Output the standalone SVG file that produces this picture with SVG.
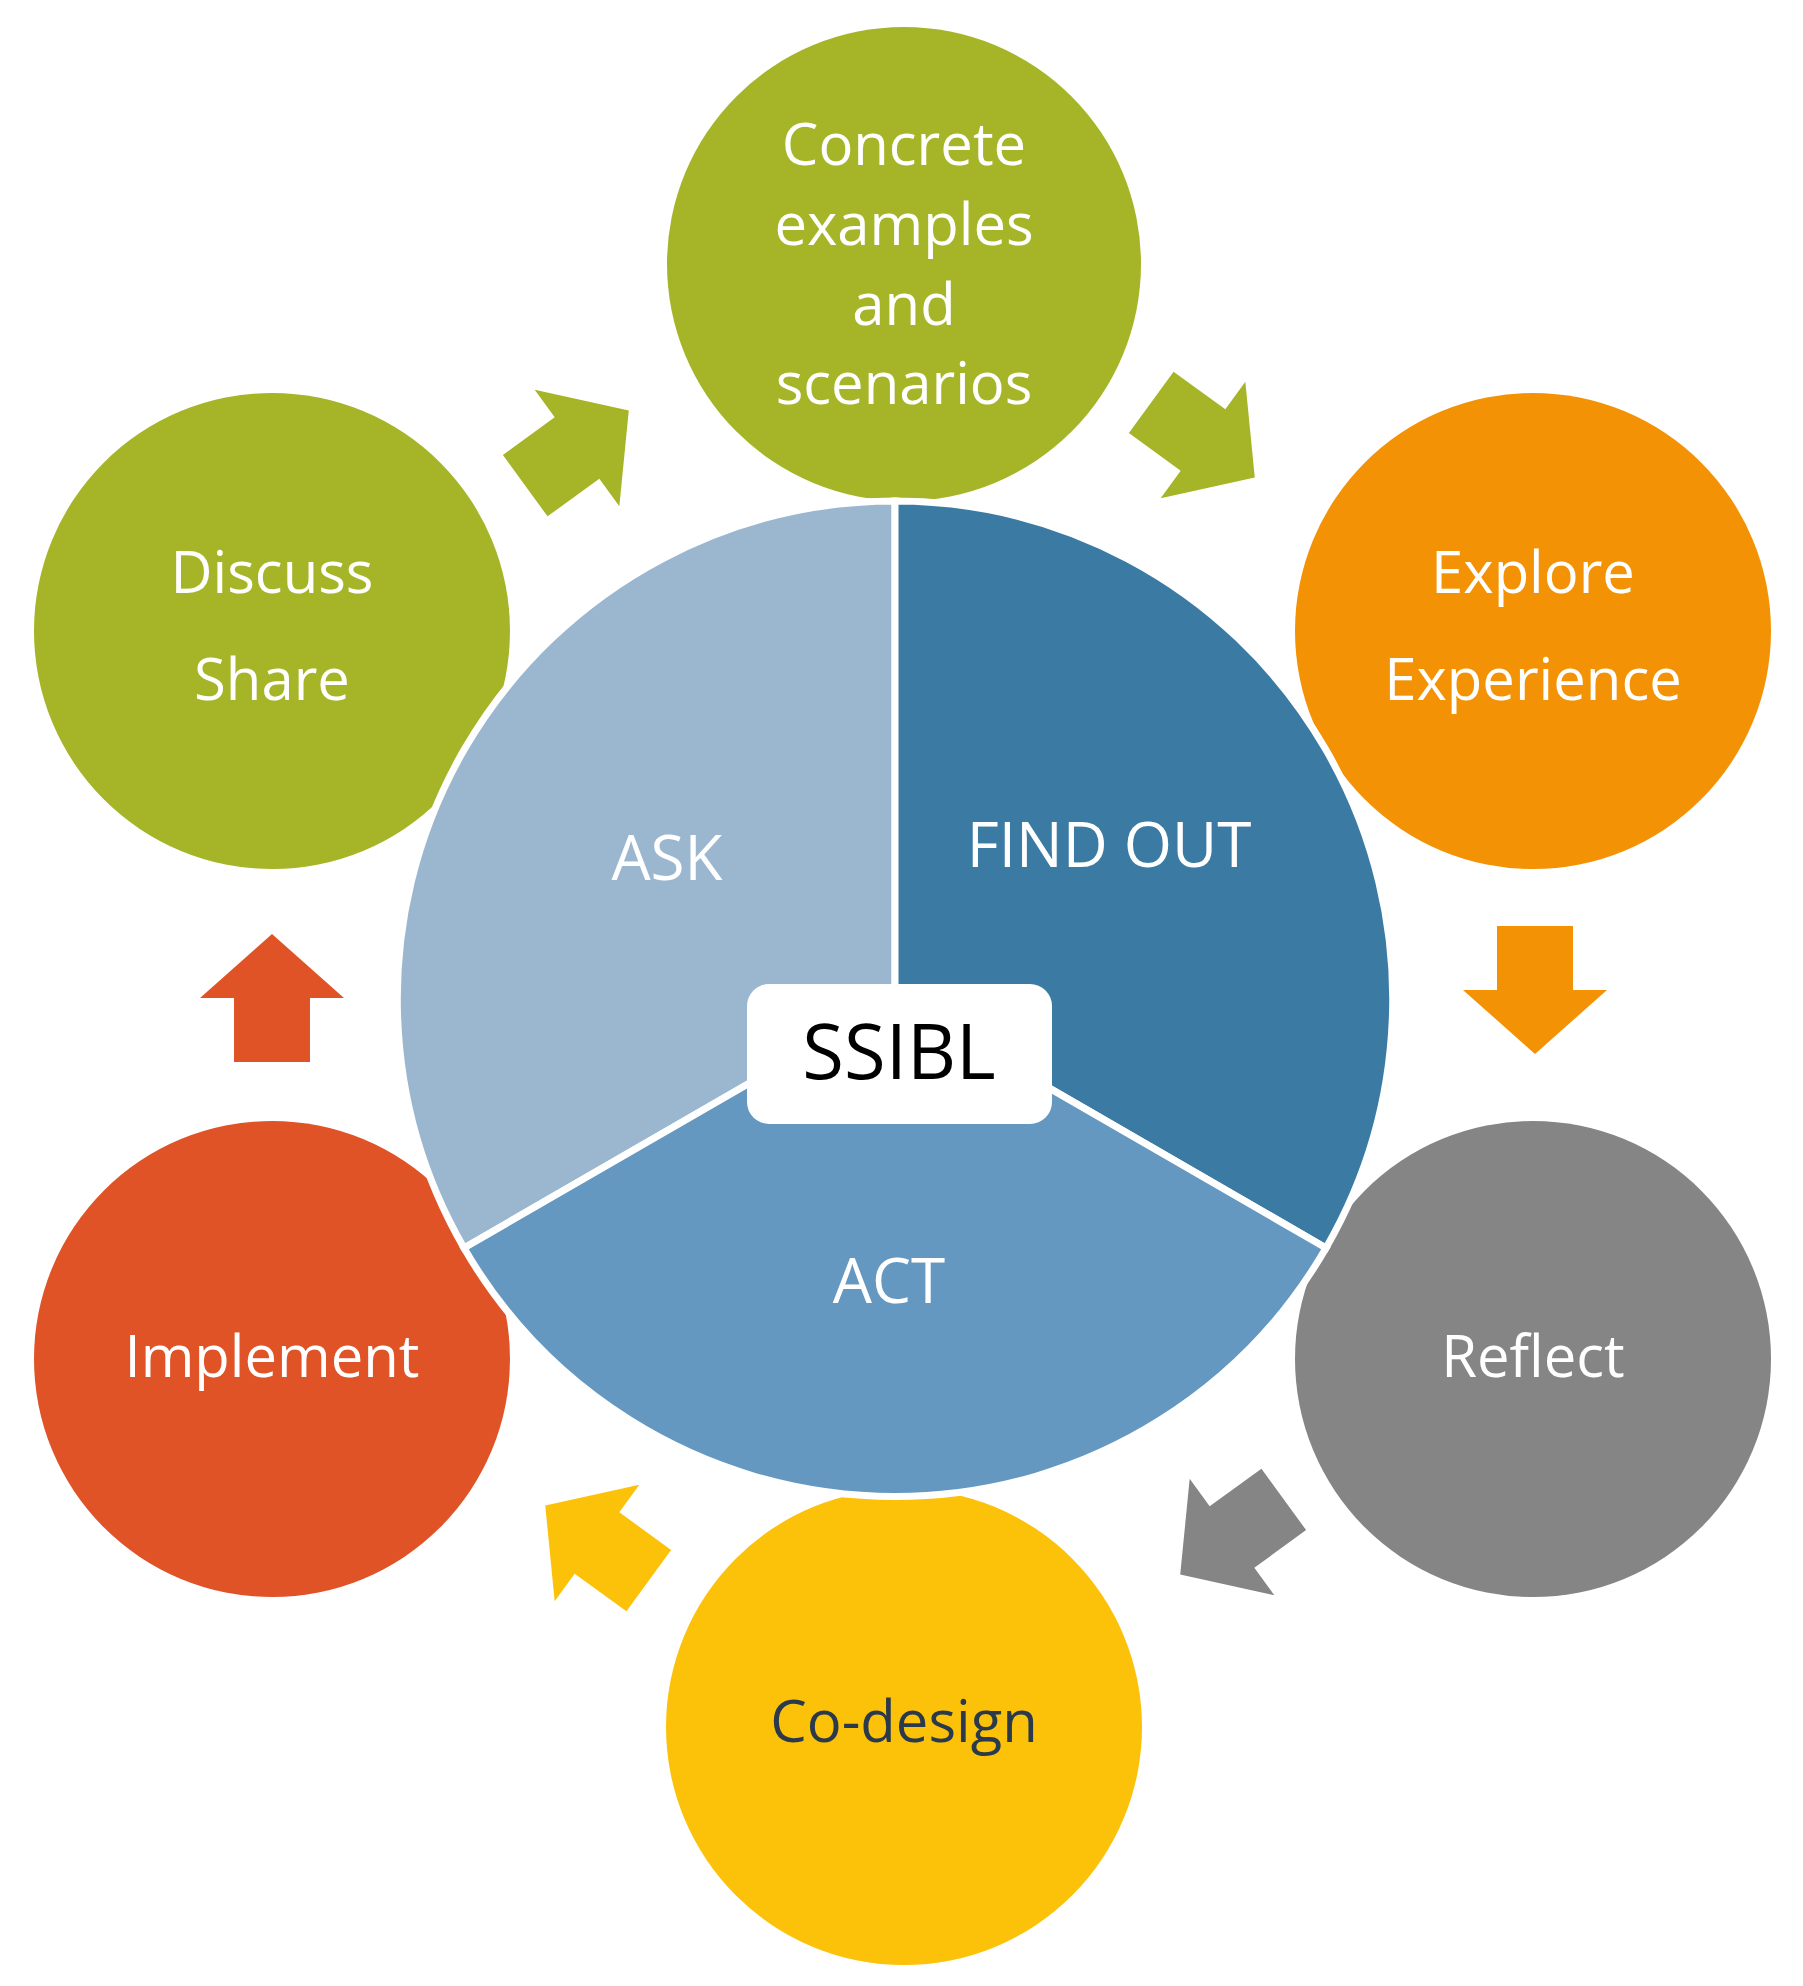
<svg xmlns="http://www.w3.org/2000/svg" width="1803" height="1986" viewBox="0 0 1803 1986">
<style>
text{font-family:"Open Sans","Liberation Sans",sans-serif;text-anchor:middle;fill:#fff}
.n{font-size:58px}
.s{font-size:62px}
.sec{stroke:#fff;stroke-width:7}
</style>
<defs>
<path id="ar" d="M-64,-38 L0,-38 L0,-72 L64,0 L0,72 L0,38 L-64,38 Z"/>
</defs>
<rect width="1803" height="1986" fill="#fff"/>
<g id="concrete"><circle cx="904" cy="264" r="237" fill="#A5B527"/>
<text class="n" x="904" y="165">Concrete</text><text class="n" x="904" y="245">examples</text><text class="n" x="904" y="325">and</text><text class="n" x="904" y="404">scenarios</text></g>
<g id="discuss"><circle cx="272" cy="631" r="238" fill="#A5B527"/>
<text class="n" x="272" y="593">Discuss</text><text class="n" x="272" y="700">Share</text></g>
<g id="explore"><circle cx="1533" cy="631" r="238" fill="#F39205"/>
<text class="n" x="1533" y="593">Explore</text><text class="n" x="1533" y="700">Experience</text></g>
<g id="reflect"><circle cx="1533" cy="1359" r="238" fill="#858585"/>
<text class="n" x="1533" y="1377">Reflect</text></g>
<g id="codesign"><circle cx="904" cy="1727" r="238" fill="#FCC20A"/>
<text class="n" x="904" y="1742" style="fill:#2B3A4A">Co-design</text></g>
<g id="implement"><circle cx="272" cy="1359" r="238" fill="#DF5327"/>
<text class="n" x="272" y="1377">Implement</text></g>
<g id="core">
<path class="sec" d="M895,999 L895,501 A498,498 0 0 0 464,1248 Z" fill="#9BB7CF"/>
<path class="sec" d="M895,999 L895,501 A498,498 0 0 1 1326,1248 Z" fill="#3A7AA3"/>
<path class="sec" d="M895,999 L1326,1248 A498,498 0 0 1 464,1248 Z" fill="#6498C0"/>
<text class="s" x="667" y="880">ASK</text>
<text class="s" x="1109" y="867">FIND OUT</text>
<text class="s" x="889" y="1303">ACT</text>
</g>
<g id="ssibl"><rect x="747" y="984" width="305" height="140" rx="22" fill="#fff"/>
<text x="899" y="1079" style="fill:#000;font-size:76px">SSIBL</text></g>
<g id="connectors">
<use href="#ar" transform="translate(577,448) rotate(-36)" fill="#A5B527"/>
<use href="#ar" transform="translate(1203,440) rotate(36)" fill="#A5B527"/>
<use href="#ar" transform="translate(1535,990) rotate(90)" fill="#F39205"/>
<use href="#ar" transform="translate(1232,1537) rotate(144)" fill="#858585"/>
<use href="#ar" transform="translate(597,1543) rotate(216)" fill="#FCC20A"/>
<use href="#ar" transform="translate(272,998) rotate(-90)" fill="#DF5327"/>
</g>
</svg>
